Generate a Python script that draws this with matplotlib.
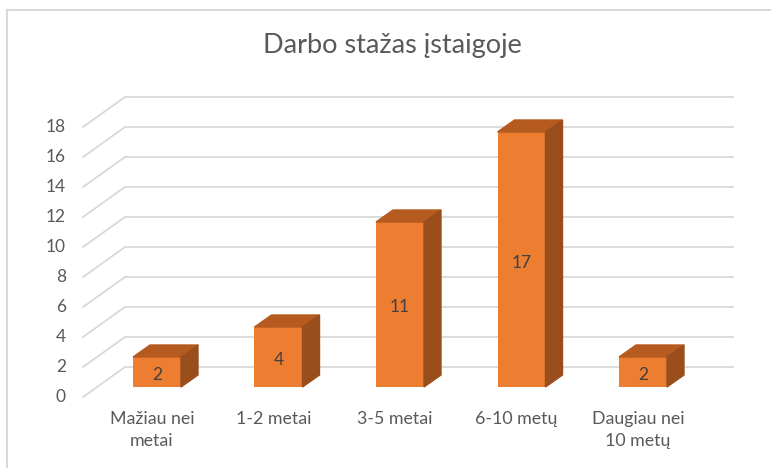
import numpy as np
import matplotlib.pyplot as plt
from matplotlib.patches import Polygon

# Darbo stazas chart data
categories = ["Mažiau nei\nmetai", "1-2 metai", "3-5 metai", "6-10 metų", "Daugiau nei\n10 metų"]
values = [2, 4, 11, 17, 2]
yticks = list(range(0, 20, 2))

front_c, top_c, side_c = "#ED7D31", "#B65B1F", "#9A4E1C"
grid_c, text_c = "#D9D9D9", "#595959"

plt.rcParams['font.family'] = ['Lato', 'DejaVu Sans']

fig = plt.figure(figsize=(7.71, 4.68), dpi=100)
ax = fig.add_axes([0, 0, 1, 1])
# 1 category = 121.5 px, 1 unit = 15 px
ax.set_xlim((0 - 157) / 121.5, (771 - 157) / 121.5)
ax.set_ylim((387 - 468) / 15, (387 - 0) / 15)
ax.axis("off")

# depth offsets in data units
px = 1 / 121.5
bw = 48 * px
sdx, sdy = 17 * px, 0.8                  # bar depth
fx, fy = (83 - 157) * px, -10 / 15       # front edge of floor/grid
bx, by = (125 - 157) * px, 20 / 15       # back wall
gx_end = (733 - 157) * px

for v in yticks:
    ax.plot([fx, bx], [v + fy, v + by], color=grid_c, lw=1.3, zorder=1)
    ax.plot([bx, gx_end], [v + by, v + by], color=grid_c, lw=1.3, zorder=1)
    ax.text(fx - 17 * px, v + fy, str(v), ha="right", va="center",
            fontsize=12.5, color=text_c)

x = np.arange(len(values))
ax.bar(x, values, width=bw, color=front_c, zorder=3)
for xi, v in zip(x, values):
    l, r = xi - bw / 2, xi + bw / 2
    ax.add_patch(Polygon([[l, v], [r, v], [r + sdx, v + sdy], [l + sdx, v + sdy]],
                         closed=True, color=top_c, zorder=3))
    ax.add_patch(Polygon([[r, 0], [r + sdx, sdy], [r + sdx, v + sdy], [r, v]],
                         closed=True, color=side_c, zorder=3))
    ax.text(xi, v / 2 - 0.2, str(v), ha="center", va="center", fontsize=12.5,
            color="#404040", zorder=4)

for xi, lab in zip(x, categories):
    ax.text(xi - 5 * px, (387 - 411) / 15, lab, ha="center", va="top",
            fontsize=12.8, color=text_c, linespacing=1.45)

fig.text(392 / 771, 1 - 45 / 468, "Darbo stažas įstaigoje", ha="center", va="center",
         fontsize=19.5, color=text_c)

# chart border (left and top)
ax.plot([(7.5 - 157) * px, (7.5 - 157) * px], [(387 - 468) / 15, (387 - 9.5) / 15],
        color=grid_c, lw=1.5, clip_on=False)
ax.plot([(7.5 - 157) * px, (771 - 157) * px], [(387 - 9.5) / 15, (387 - 9.5) / 15],
        color=grid_c, lw=1.5, clip_on=False)

fig.savefig("out.png", dpi=100)
